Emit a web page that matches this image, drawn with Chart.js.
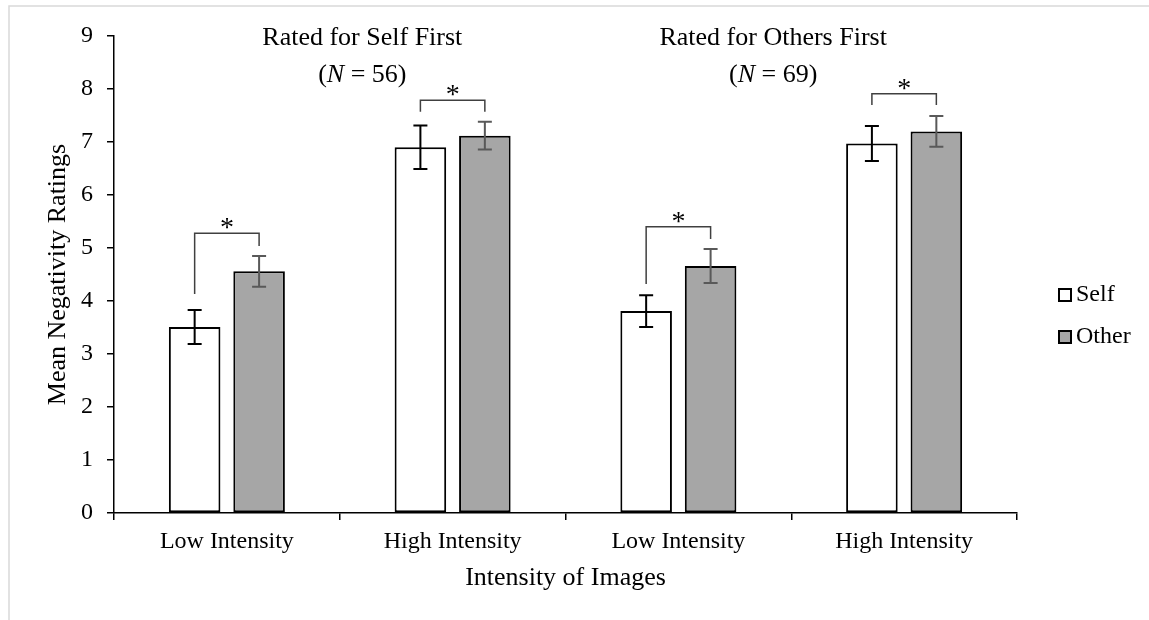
<!DOCTYPE html>
<html>
<head>
<meta charset="utf-8">
<script src="https://cdn.jsdelivr.net/npm/chart.js@4.4.0/dist/chart.umd.min.js"></script>
<style>
  html, body { margin: 0; padding: 0; background: #fff; }
</style>
</head>
<body>
<canvas id="negChart" width="1149" height="620"></canvas>
<script>
const categories = ['Low Intensity', 'High Intensity', 'Low Intensity', 'High Intensity'];
const selfMeans = [3.51, 6.90, 3.81, 6.97];
const otherMeans = [4.56, 7.12, 4.66, 7.20];
const selfErr = [0.32, 0.41, 0.30, 0.33];
const otherErr = [0.29, 0.26, 0.32, 0.29];
const yTickValues = [0, 1, 2, 3, 4, 5, 6, 7, 8, 9];

// significance brackets, in rating units
const bracketTop = [5.28, 7.79, 5.40, 7.91];
const bracketSelfEnd = [4.13, 7.57, 4.32, 7.70];
const bracketOtherEnd = [5.04, 7.57, 5.17, 7.70];

const panelTitles = ['Rated for Self First', 'Rated for Others First'];
const panelN = [56, 69];
const panelAt = [0.6, 2.42]; // category index where each title is centred

const serif = "'Liberation Serif', 'Times New Roman', Times, serif";

const annotations = {
    id: 'annotations',
    beforeDraw: (chart) => {
        const c = chart.ctx;
        c.save();
        c.fillStyle = '#fff';
        c.fillRect(0, 0, chart.width, chart.height);
        c.strokeStyle = '#d9d9d9';
        c.lineWidth = 1.5;
        c.beginPath();
        c.moveTo(9, chart.height);
        c.lineTo(9, 6);
        c.lineTo(chart.width, 6);
        c.stroke();
        c.restore();
    },
    afterDatasetsDraw: (chart) => {
        const c = chart.ctx;
        const y = chart.scales.y;
        const x = chart.scales.x;
        const area = chart.chartArea;
        const selfBars = chart.getDatasetMeta(0).data;
        const otherBars = chart.getDatasetMeta(1).data;

        c.save();
        const drawErr = (bars, means, errs, color) => {
            c.strokeStyle = color;
            c.lineWidth = 2;
            bars.forEach((bar, i) => {
                const top = y.getPixelForValue(means[i] + errs[i]);
                const bot = y.getPixelForValue(means[i] - errs[i]);
                c.beginPath();
                c.moveTo(bar.x, top); c.lineTo(bar.x, bot);
                c.moveTo(bar.x - 7, top); c.lineTo(bar.x + 7, top);
                c.moveTo(bar.x - 7, bot); c.lineTo(bar.x + 7, bot);
                c.stroke();
            });
        };
        drawErr(selfBars, selfMeans, selfErr, '#000');
        drawErr(otherBars, otherMeans, otherErr, '#595959');

        // brackets + asterisks
        c.strokeStyle = '#404040';
        c.lineWidth = 1.5;
        c.fillStyle = '#000';
        c.font = '28px ' + serif;
        c.textAlign = 'center';
        c.textBaseline = 'alphabetic';
        categories.forEach((cat, i) => {
            const x1 = selfBars[i].x;
            const x2 = otherBars[i].x;
            const yt = y.getPixelForValue(bracketTop[i]);
            c.beginPath();
            c.moveTo(x1, y.getPixelForValue(bracketSelfEnd[i]));
            c.lineTo(x1, yt);
            c.lineTo(x2, yt);
            c.lineTo(x2, y.getPixelForValue(bracketOtherEnd[i]));
            c.stroke();
            c.fillText('*', (x1 + x2) / 2, yt + 3);
        });

        // panel titles
        c.font = '26px ' + serif;
        panelTitles.forEach((t, i) => {
            const cx = x.getPixelForValue(panelAt[i]);
            c.textAlign = 'center';
            c.fillText(t, cx, area.top + 9);
            const parts = [['(', false], ['N', true], [' = ' + panelN[i] + ')', false]];
            let w = 0;
            parts.forEach(p => {
                c.font = (p[1] ? 'italic ' : '') + '26px ' + serif;
                w += c.measureText(p[0]).width;
            });
            let px = cx - w / 2;
            c.textAlign = 'left';
            parts.forEach(p => {
                c.font = (p[1] ? 'italic ' : '') + '26px ' + serif;
                c.fillText(p[0], px, area.top + 46);
                px += c.measureText(p[0]).width;
            });
            c.font = '26px ' + serif;
        });

        // axis titles
        c.textAlign = 'center';
        c.textBaseline = 'middle';
        c.fillText('Intensity of Images', (area.left + area.right) / 2, 578);
        c.save();
        c.translate(58, (area.top + area.bottom) / 2);
        c.rotate(-Math.PI / 2);
        c.fillText('Mean Negativity Ratings', 0, 0);
        c.restore();

        // legend
        c.font = '24px ' + serif;
        c.textAlign = 'left';
        chart.data.datasets.forEach((ds, i) => {
            const ly = 295 + i * 42;
            c.fillStyle = ds.backgroundColor;
            c.fillRect(1059, ly - 6, 12, 12);
            c.strokeStyle = '#000';
            c.lineWidth = 2;
            c.strokeRect(1059, ly - 6, 12, 12);
            c.fillStyle = '#000';
            c.fillText(ds.label, 1076, ly);
        });
        c.restore();
    }
};

const data = {
    labels: categories,
    datasets: [{
        label: 'Self',
        data: selfMeans,
        backgroundColor: '#ffffff',
        borderColor: '#000000',
        borderWidth: 2,
        borderSkipped: false
    }, {
        label: 'Other',
        data: otherMeans,
        backgroundColor: '#a6a6a6',
        borderColor: '#000000',
        borderWidth: 2,
        borderSkipped: false
    }]
};

const config = {
    type: 'bar',
    data: data,
    options: {
        responsive: false,
        animation: false,
        categoryPercentage: 0.571,
        barPercentage: 0.8,
        layout: {
            padding: { top: 36, right: 132, left: 0, bottom: 0 }
        },
        plugins: {
            legend: { display: false },
            tooltip: { enabled: false }
        },
        scales: {
            x: {
                grid: { offset: true, drawOnChartArea: false, drawTicks: true, tickLength: 7, color: '#000', lineWidth: 1.5 },
                border: { color: '#000', width: 1.5 },
                ticks: { color: '#000', font: { family: serif, size: 24 }, padding: 7, maxRotation: 0 },
                afterFit: (s) => { s.height = 107; }
            },
            y: {
                min: 0,
                max: 9,
                grid: { drawOnChartArea: false, drawTicks: true, tickLength: 7, color: '#000', lineWidth: 1.5 },
                border: { color: '#000', width: 1.5 },
                ticks: { color: '#000', font: { family: serif, size: 24 }, padding: 14 },
                afterBuildTicks: (s) => { s.ticks = yTickValues.map(v => ({ value: v })); },
                afterFit: (s) => { s.width = 114; }
            }
        }
    },
    plugins: [annotations]
};

const negChart = new Chart(document.getElementById('negChart').getContext('2d'), config);
</script>
</body>
</html>
